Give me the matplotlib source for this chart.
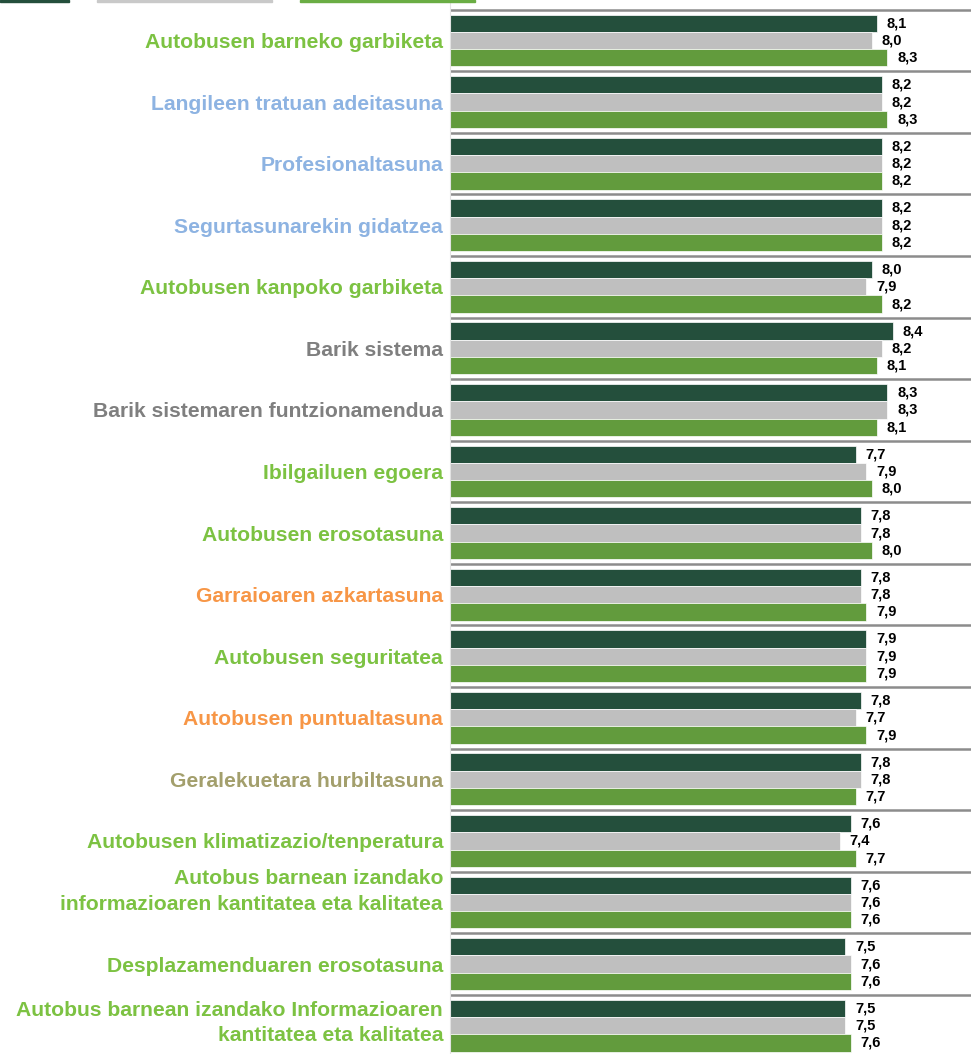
import matplotlib.pyplot as plt
from matplotlib.patches import Rectangle

# Data
categories = [
    "Autobusen barneko garbiketa",
    "Langileen tratuan adeitasuna",
    "Profesionaltasuna",
    "Segurtasunarekin gidatzea",
    "Autobusen kanpoko garbiketa",
    "Barik sistema",
    "Barik sistemaren funtzionamendua",
    "Ibilgailuen egoera",
    "Autobusen erosotasuna",
    "Garraioaren azkartasuna",
    "Autobusen seguritatea",
    "Autobusen puntualtasuna",
    "Geralekuetara hurbiltasuna",
    "Autobusen klimatizazio/tenperatura",
    "Autobus barnean izandako\ninformazioaren kantitatea eta kalitatea",
    "Desplazamenduaren erosotasuna",
    "Autobus barnean izandako Informazioaren\nkantitatea eta kalitatea",
]
serie1 = [8.1, 8.2, 8.2, 8.2, 8.0, 8.4, 8.3, 7.7, 7.8, 7.8, 7.9, 7.8, 7.8, 7.6, 7.6, 7.5, 7.5]
serie2 = [8.0, 8.2, 8.2, 8.2, 7.9, 8.2, 8.3, 7.9, 7.8, 7.8, 7.9, 7.7, 7.8, 7.4, 7.6, 7.6, 7.5]
serie3 = [8.3, 8.3, 8.2, 8.2, 8.2, 8.1, 8.1, 8.0, 8.0, 7.9, 7.9, 7.9, 7.7, 7.7, 7.6, 7.6, 7.6]
label_groups = ["g", "b", "b", "b", "g", "k", "k", "g", "g", "o", "g", "o", "y", "g", "g", "g", "g"]

label_colors = {"g": "#7cc242", "b": "#8db3e2", "k": "#7f7f7f", "o": "#f79646", "y": "#a39f6c"}
bar_colors = ["#244f3c", "#bfbfbf", "#629b3d"]
# small vertical nudges of the two-line category labels (points)
label_nudge = [0] * 14 + [8, 0, 2]

fig = plt.figure(figsize=(9.71, 10.54), dpi=100)
ax = fig.add_axes([450 / 971, 0, 521 / 971, 1])

n = len(categories)
h = 0.281
ys = list(range(n))
for k, (vals, col) in enumerate(zip([serie1, serie2, serie3], bar_colors)):
    pos = [y + (k - 1) * h for y in ys]
    ax.barh(pos, vals, height=h, color=col, edgecolor="white", linewidth=0.5)
    for p, v in zip(pos, vals):
        ax.annotate(("%.1f" % v).replace(".", ","), (v, p), xytext=(7, 0),
                    textcoords="offset points", va="center", ha="left",
                    fontsize=10.5, fontweight="bold", family="Liberation Sans", color="black")

# category labels
for y, txt, g, dy in zip(ys, categories, label_groups, label_nudge):
    va = "center" if "\n" in txt else "center_baseline"
    ax.annotate(txt, (0, y), xycoords=("axes fraction", "data"), xytext=(-5, dy),
                textcoords="offset points", ha="right", va=va, multialignment="right",
                fontsize=15.2, fontweight="bold", family="Liberation Sans",
                linespacing=1.42, color=label_colors[g], annotation_clip=False)

# group separators
for y in ys:
    ax.axhline(y - 0.5, color="#8c8c8c", lw=1.8)

ax.set_xlim(0, 521 / 52.7)
ax.set_ylim(16.46, -0.658)
ax.set_yticks([])
ax.set_xticks([])
for s in ["top", "right", "bottom"]:
    ax.spines[s].set_visible(False)
ax.spines["left"].set_color("#e3e3e3")

# legend swatches cut off at the top edge
for x0, x1, col in [(0, 69, bar_colors[0]), (97, 272, "#c9c9c9"), (300, 475, "#6aad44")]:
    fig.patches.append(Rectangle((x0 / 971, 1 - 2 / 1054), (x1 - x0) / 971, 2 / 1054,
                                 transform=fig.transFigure, color=col))

fig.savefig("out.png", dpi=100)
